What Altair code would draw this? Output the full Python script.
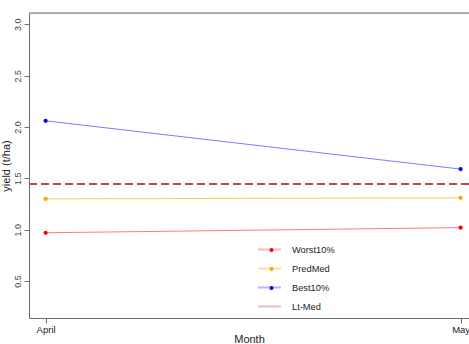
import altair as alt
import pandas as pd

# Sowing months on a numeric axis (1 = April, 2 = May)
month_pos = [1, 2]
month_names = ["April", "May"]

series_names = ["Worst10%", "PredMed", "Best10%", "Lt-Med"]
worst10 = [0.97, 1.02]
predmed = [1.30, 1.31]
best10 = [2.06, 1.59]
lt_med = [1.446]

line_colors = ["#ff7c7c", "#ffc65c", "#7c7cff", "#dc8a8a"]
point_colors = ["#ff0000", "#ffa500", "#0000ff", "transparent"]
lt_med_color = "#bf4848"
y_ticks = [0.5, 1.0, 1.5, 2.0, 2.5, 3.0]

rows = []
for name, vals in zip(series_names[:3], [worst10, predmed, best10]):
    for m, v in zip(month_pos, vals):
        rows.append({"month": m, "yield": v, "series": name})
df = pd.DataFrame(rows)
ref = pd.DataFrame({"yield": lt_med, "series": ["Lt-Med"]})

FONT = "Liberation Sans"
AXIS_GRAY = "#6e6e6e"

label_expr = "'" + month_names[-1] + "'"
for p, n in zip(month_pos[:-1], month_names[:-1]):
    label_expr = f"datum.value == {p} ? '{n}' : " + label_expr

x_scale = alt.Scale(domain=[0.96, 0.96 + 440 / 415], nice=False, zero=False)
y_scale = alt.Scale(domain=[0.14, 3.11], nice=False, zero=False)

x_axis = alt.Axis(
    values=month_pos, labelExpr=label_expr, title="Month", grid=False,
    tickSize=5, tickColor=AXIS_GRAY, domainColor=AXIS_GRAY,
    labelFont=FONT, labelFontSize=9.5, labelColor="#222", labelPadding=1,
    titleFont=FONT, titleFontSize=11, titleFontWeight="normal",
    titleColor="#222", titlePadding=0,
)
y_axis = alt.Axis(
    values=y_ticks, format=".1f", title="yield (t/ha)", grid=False,
    tickSize=5, tickColor=AXIS_GRAY, domainColor=AXIS_GRAY,
    labelAngle=270, labelAlign="center", labelBaseline="bottom",
    labelFont=FONT, labelFontSize=9, labelColor="#444", labelPadding=2,
    titleFont=FONT, titleFontSize=11, titleFontWeight="normal",
    titleColor="#222", titlePadding=2,
)

line_scale = alt.Scale(domain=series_names, range=line_colors)
point_scale = alt.Scale(domain=series_names, range=point_colors)

line_legend = alt.Legend(
    title=None, orient="none", legendX=228, legendY=224, padding=0,
    symbolType="stroke", symbolSize=529, symbolStrokeWidth=2,
    symbolOpacity=0.55,
    labelFont=FONT, labelFontSize=9.3, labelFontWeight="normal",
    labelColor="#222", labelOffset=10, rowPadding=1,
)
# Dots drawn on top of the legend lines; this legend carries no label text
point_legend = alt.Legend(
    title=None, orient="none", legendX=237.5, legendY=232, padding=0,
    symbolType="circle", symbolSize=16, symbolStrokeWidth=0,
    labelExpr="''", labelFont=FONT, labelFontSize=10,
    labelOffset=11, rowPadding=9,
)

lines = alt.Chart(df).mark_line(strokeWidth=1).encode(
    x=alt.X("month:Q", scale=x_scale, axis=x_axis),
    y=alt.Y("yield:Q", scale=y_scale, axis=y_axis),
    color=alt.Color("series:N", scale=line_scale, legend=line_legend),
)

# Long-term median as a dashed horizontal reference line
lt_rule = alt.Chart(ref).mark_rule(
    strokeDash=[8, 4], strokeWidth=2, color=lt_med_color
).encode(y=alt.Y("yield:Q", scale=y_scale))

points = alt.Chart(df).mark_point(filled=True, size=18, opacity=1).encode(
    x=alt.X("month:Q", scale=x_scale),
    y=alt.Y("yield:Q", scale=y_scale),
    color=alt.Color("series:N", scale=point_scale, legend=point_legend),
)

# Top edge of the plot frame
top_frame = alt.Chart(ref).mark_rule(color=AXIS_GRAY, strokeWidth=1).encode(
    x=alt.value(0), x2=alt.value(460), y=alt.value(0),
)

chart = (
    alt.layer(lines, lt_rule, points, top_frame)
    .resolve_scale(color="independent")
    .properties(
        width=440, height=305,
        autosize=alt.AutoSizeParams(type="none"),
        padding={"left": 29, "top": 13, "right": 0, "bottom": 26},
    )
    .configure_view(stroke=None)
    .configure(background="white")
)

chart.save("out.html", embed_options={"renderer": "svg", "actions": False})
